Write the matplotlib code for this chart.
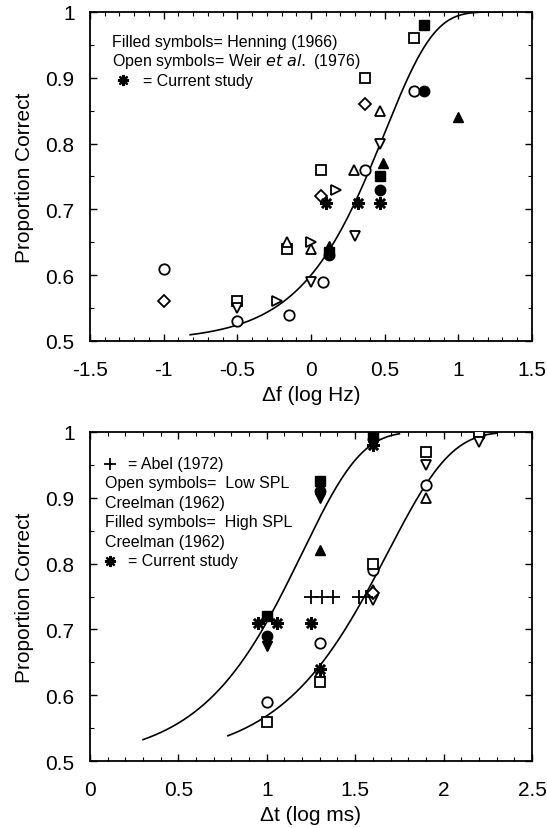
import numpy as np
import matplotlib
matplotlib.use('Agg')
import matplotlib.pyplot as plt
from matplotlib.ticker import MultipleLocator

plt.rcParams['font.family'] = ['Liberation Sans', 'DejaVu Sans']

# ---- top panel: frequency discrimination ----
# open symbols = Weir et al. (1976)
top_open = {
    'o': ([-1.0, -0.5, -0.15, 0.08, 0.37, 0.7],
          [0.61, 0.53, 0.54, 0.59, 0.76, 0.88]),
    's': ([-0.5, -0.16, 0.07, 0.37, 0.7],
          [0.56, 0.64, 0.76, 0.90, 0.96]),
    'D': ([-1.0, 0.07, 0.37],
          [0.56, 0.72, 0.86]),
    '^': ([-0.16, 0.0, 0.29, 0.47],
          [0.65, 0.64, 0.76, 0.85]),
    'v': ([-0.5, 0.0, 0.3, 0.47],
          [0.55, 0.59, 0.66, 0.80]),
    '>': ([-0.23, 0.0, 0.17],
          [0.56, 0.65, 0.73]),
}
# filled symbols = Henning (1966)
top_filled = {
    's': ([0.12, 0.47, 0.77], [0.635, 0.75, 0.98]),
    'o': ([0.12, 0.47, 0.77], [0.63, 0.73, 0.88]),
    '^': ([0.12, 0.49, 1.0], [0.645, 0.77, 0.84]),
}
top_current_x = [0.1, 0.32, 0.47]
top_current_y = [0.71, 0.71, 0.71]
# fitted psychometric function (Weibull in log units)
top_fit = dict(k=3.0, x0=0.5, xmin=-0.82, xmax=1.3)

# ---- bottom panel: duration discrimination ----
# open symbols = Low SPL, Creelman (1962)
bot_open = {
    'o': ([1.0, 1.3, 1.6, 1.9, 2.2], [0.59, 0.68, 0.79, 0.92, 0.995]),
    's': ([1.0, 1.3, 1.6, 1.9, 2.2], [0.56, 0.62, 0.80, 0.97, 1.0]),
    '^': ([1.3, 1.6, 1.9], [0.635, 0.76, 0.90]),
    'v': ([1.6, 1.9, 2.2], [0.745, 0.95, 0.985]),
    'D': ([1.6], [0.755]),
}
# filled symbols = High SPL, Creelman (1962)
bot_filled = {
    's': ([1.0, 1.3, 1.6], [0.72, 0.925, 0.995]),
    'o': ([1.0, 1.3, 1.6], [0.69, 0.91, 0.99]),
    'v': ([1.0, 1.3, 1.6], [0.675, 0.90, 0.98]),
    '^': ([1.3], [0.82]),
}
abel_x = [1.25, 1.31, 1.375, 1.52, 1.56]
abel_y = [0.75, 0.75, 0.75, 0.75, 0.75]
bot_current_x = [0.95, 1.06, 1.25, 1.3, 1.6]
bot_current_y = [0.71, 0.71, 0.71, 0.64, 0.98]
bot_fit_left = dict(k=3.0, x0=1.2, xmin=0.3, xmax=1.75)
bot_fit_right = dict(k=2.8, x0=1.683, xmin=0.78, xmax=2.3)

STAR = (8, 2, 0)   # 8-armed asterisk


def weibull(x, k, x0):
    # 2AFC: chance = 0.5
    return 0.5 + 0.5 * (1 - np.exp(-np.exp(k * (x - x0))))


def draw_fit(ax, fit):
    xs = np.linspace(fit['xmin'], fit['xmax'], 300)
    ax.plot(xs, weibull(xs, fit['k'], fit['x0']), color='black', lw=1.2, zorder=2)


def draw_symbols(ax, open_d, filled_d):
    for m, (xs, ys) in open_d.items():
        ms = 6 if m == 'D' else 7.5
        ax.plot(xs, ys, m, ls='none', ms=ms, mfc='white', mec='black',
                mew=1.3, zorder=3)
    for m, (xs, ys) in filled_d.items():
        ax.plot(xs, ys, m, ls='none', ms=7.5, mfc='black', mec='black',
                mew=1.0, zorder=4)


def style_axes(ax, xminor):
    ax.set_ylim(0.5, 1.0)
    ax.yaxis.set_major_locator(MultipleLocator(0.1))
    ax.yaxis.set_minor_locator(MultipleLocator(0.05))
    ax.xaxis.set_major_locator(MultipleLocator(0.5))
    ax.xaxis.set_minor_locator(MultipleLocator(xminor))
    ax.tick_params(which='both', direction='in', top=True, right=True)
    ax.tick_params(which='major', length=5, width=1.0, labelsize=15)
    ax.tick_params(axis='x', which='major', pad=14)
    ax.tick_params(axis='y', which='major', pad=11)
    ax.tick_params(which='minor', length=3, width=0.8)
    for sp in ax.spines.values():
        sp.set_linewidth(1.3)
    ax.set_ylabel('Proportion Correct', fontsize=15, labelpad=8)
    ax.yaxis.set_major_formatter(plt.FuncFormatter(lambda v, p: '%g' % round(v, 2)))
    ax.xaxis.set_major_formatter(plt.FuncFormatter(lambda v, p: '%g' % round(v, 2)))


fig = plt.figure(figsize=(5.47, 8.29), dpi=100)

# top
ax1 = fig.add_axes([0.1645, 0.5875, 0.808, 0.3969])
ax1.set_xlim(-1.5, 1.5)
style_axes(ax1, 0.1)
draw_fit(ax1, top_fit)
draw_symbols(ax1, top_open, top_filled)
ax1.plot(top_current_x, top_current_y, marker=STAR, ls='none', ms=9,
         mec='black', mew=1.8, zorder=5)
ax1.set_xlabel('Δf (log Hz)', fontsize=15, labelpad=4)

tk = dict(fontsize=11.5, va='center', ha='left', transform=ax1.transAxes)
ax1.text(0.05, 0.911, 'Filled symbols= Henning (1966)', **tk)
ax1.text(0.05, 0.853, 'Open symbols= Weir $\\it{et\\ al.}$ (1976)', **tk)
ax1.plot([0.075], [0.792], marker=STAR, ms=8, mec='black', mew=1.6,
         transform=ax1.transAxes)
ax1.text(0.12, 0.792, '= Current study', **tk)

# bottom
ax2 = fig.add_axes([0.1645, 0.0808, 0.808, 0.3969])
ax2.set_xlim(0, 2.5)
style_axes(ax2, 0.1)
draw_fit(ax2, bot_fit_left)
draw_fit(ax2, bot_fit_right)
draw_symbols(ax2, bot_open, bot_filled)
ax2.plot(abel_x, abel_y, marker='+', ls='none', ms=10, mec='black', mew=1.3,
         zorder=5)
ax2.plot(bot_current_x, bot_current_y, marker=STAR, ls='none', ms=9,
         mec='black', mew=1.8, zorder=5)
ax2.set_xlabel('Δt (log ms)', fontsize=15, labelpad=4)

tk2 = dict(fontsize=11.5, va='center', ha='left', transform=ax2.transAxes)
ax2.plot([0.045], [0.903], marker='+', ms=9, mec='black', mew=1.3,
         transform=ax2.transAxes)
ax2.text(0.085, 0.903, '= Abel (1972)', **tk2)
ax2.text(0.035, 0.845, 'Open symbols=  Low SPL', **tk2)
ax2.text(0.035, 0.786, 'Creelman (1962)', **tk2)
ax2.text(0.035, 0.727, 'Filled symbols=  High SPL', **tk2)
ax2.text(0.035, 0.668, 'Creelman (1962)', **tk2)
ax2.plot([0.045], [0.608], marker=STAR, ms=8, mec='black', mew=1.6,
         transform=ax2.transAxes)
ax2.text(0.085, 0.608, '= Current study', **tk2)

fig.savefig('out.png', dpi=100)
